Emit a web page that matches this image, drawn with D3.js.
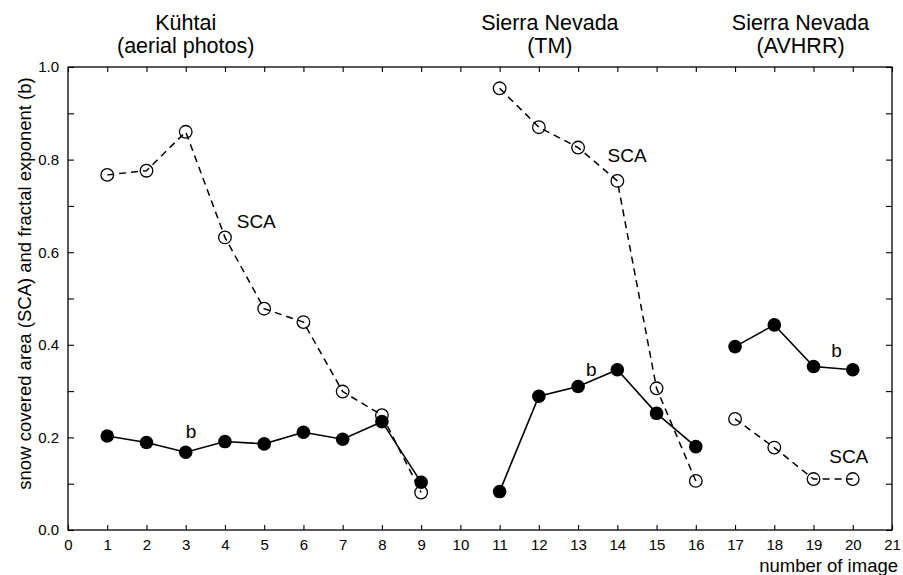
<!DOCTYPE html>
<html>
<head>
<meta charset="utf-8">
<script src="https://cdn.jsdelivr.net/npm/d3@7"></script>
<style>
  html, body { margin: 0; padding: 0; background: #fff; }
  svg { display: block; font-family: "Liberation Sans", Arial, Helvetica, sans-serif; }
</style>
</head>
<body>
<svg id="chart" width="903" height="575"></svg>
<script>
// Kühtai, aerial photos (images 1–9)
const kuhtaiImages = [1, 2, 3, 4, 5, 6, 7, 8, 9];
const kuhtaiSCA = [0.767, 0.776, 0.860, 0.632, 0.478, 0.449, 0.299, 0.248, 0.081];
const kuhtaiB   = [0.203, 0.189, 0.168, 0.191, 0.186, 0.211, 0.196, 0.234, 0.103];

// Sierra Nevada, Landsat TM (images 11–16)
const tmImages = [11, 12, 13, 14, 15, 16];
const tmSCA = [0.954, 0.870, 0.826, 0.754, 0.306, 0.106];
const tmB   = [0.083, 0.289, 0.310, 0.346, 0.252, 0.180];

// Sierra Nevada, AVHRR (images 17–20)
const avhrrImages = [17, 18, 19, 20];
const avhrrSCA = [0.240, 0.178, 0.110, 0.110];
const avhrrB   = [0.396, 0.443, 0.353, 0.346];

const xTickValues = d3.range(0, 22);
const yTickValues = d3.range(0, 11).map(i => i / 10);
const yLabelValues = [0, 0.2, 0.4, 0.6, 0.8, 1.0];

const groupTitles = [
  { lines: ["Kühtai", "(aerial photos)"], at: 3.00 },
  { lines: ["Sierra Nevada", "(TM)"], at: 12.28 },
  { lines: ["Sierra Nevada", "(AVHRR)"], at: 18.67 }
];

// in-plot series labels: [text, image number, value]
const seriesLabels = [
  ["SCA", 4.3, 0.652],
  ["b", 3.0, 0.198],
  ["SCA", 13.75, 0.795],
  ["b", 13.2, 0.332],
  ["SCA", 19.4, 0.145],
  ["b", 19.45, 0.373]
];

const svg = d3.select("#chart");
const margin = { left: 68, right: 11, top: 67, bottom: 45 };
const W = 903, H = 575;

const x = d3.scaleLinear().domain([0, 21]).range([margin.left, W - margin.right]);
const y = d3.scaleLinear().domain([0, 1]).range([H - margin.bottom, margin.top]);

const ink = "#000";

// frame
svg.append("rect")
  .attr("x", x(0)).attr("y", y(1))
  .attr("width", x(21) - x(0)).attr("height", y(0) - y(1))
  .attr("fill", "none").attr("stroke", ink).attr("stroke-width", 1.3);

function styleAxis(g, fontSize) {
  g.select(".domain").remove();
  g.selectAll(".tick line").attr("stroke", ink).attr("stroke-width", 1.1);
  g.selectAll(".tick text").attr("fill", ink).attr("font-size", fontSize).attr("font-family", null);
}

// bottom axis, ticks pointing inward
svg.append("g")
  .attr("transform", `translate(0,${y(0)})`)
  .call(d3.axisBottom(x).tickValues(xTickValues).tickFormat(d3.format("d"))
    .tickSizeInner(-5).tickSizeOuter(0).tickPadding(9.5))
  .call(g => styleAxis(g, 15));

// top axis, ticks only
svg.append("g")
  .attr("transform", `translate(0,${y(1)})`)
  .call(d3.axisTop(x).tickValues(xTickValues).tickFormat("")
    .tickSizeInner(-5).tickSizeOuter(0))
  .call(g => styleAxis(g, 15));

// left axis, labels every 0.2
const fmt = d3.format(".1f");
svg.append("g")
  .attr("transform", `translate(${x(0)},0)`)
  .call(d3.axisLeft(y).tickValues(yTickValues)
    .tickFormat(d => yLabelValues.some(v => Math.abs(v - d) < 1e-9) ? fmt(d) : "")
    .tickSizeInner(-6).tickSizeOuter(0).tickPadding(9))
  .call(g => styleAxis(g, 15));

// right axis, ticks only
svg.append("g")
  .attr("transform", `translate(${x(21)},0)`)
  .call(d3.axisRight(y).tickValues(yTickValues).tickFormat("")
    .tickSizeInner(-6).tickSizeOuter(0))
  .call(g => styleAxis(g, 15));

// axis titles
svg.append("text")
  .attr("transform", `translate(31,${(y(0) + y(1)) / 2 - 15}) rotate(-90)`)
  .attr("text-anchor", "middle")
  .attr("font-size", 18.5)
  .attr("fill", ink)
  .text("snow covered area (SCA) and fractal exponent (b)");

svg.append("text")
  .attr("x", 898).attr("y", 571.5)
  .attr("text-anchor", "end")
  .attr("font-size", 18.5)
  .attr("fill", ink)
  .text("number of image");

// group titles
groupTitles.forEach(t => {
  const txt = svg.append("text")
    .attr("text-anchor", "middle")
    .attr("font-size", 21.5)
    .attr("fill", ink);
  t.lines.forEach((line, i) => {
    txt.append("tspan").attr("x", x(t.at)).attr("y", 30 + i * 23).text(line);
  });
});

const groups = [
  { n: kuhtaiImages, sca: kuhtaiSCA, b: kuhtaiB },
  { n: tmImages, sca: tmSCA, b: tmB },
  { n: avhrrImages, sca: avhrrSCA, b: avhrrB }
];

const line = d3.line().x(d => x(d[0])).y(d => y(d[1]));

groups.forEach(g => {
  const sca = g.n.map((n, i) => [n, g.sca[i]]);
  const b = g.n.map((n, i) => [n, g.b[i]]);

  // SCA: dashed line, open circles
  svg.append("path").datum(sca).attr("d", line)
    .attr("fill", "none").attr("stroke", ink)
    .attr("stroke-width", 1.5).attr("stroke-dasharray", "7,5");
  svg.append("g").selectAll("circle").data(sca).join("circle")
    .attr("cx", d => x(d[0])).attr("cy", d => y(d[1])).attr("r", 6.3)
    .attr("fill", "none").attr("stroke", ink).attr("stroke-width", 1.3);

  // b: solid line, filled circles
  svg.append("path").datum(b).attr("d", line)
    .attr("fill", "none").attr("stroke", ink).attr("stroke-width", 1.6);
  svg.append("g").selectAll("circle").data(b).join("circle")
    .attr("cx", d => x(d[0])).attr("cy", d => y(d[1])).attr("r", 6.8)
    .attr("fill", ink);
});

// series labels
svg.append("g").selectAll("text").data(seriesLabels).join("text")
  .attr("x", d => x(d[1])).attr("y", d => y(d[2]))
  .attr("text-anchor", "start")
  .attr("font-size", 19)
  .attr("fill", ink)
  .text(d => d[0]);
</script>
</body>
</html>
